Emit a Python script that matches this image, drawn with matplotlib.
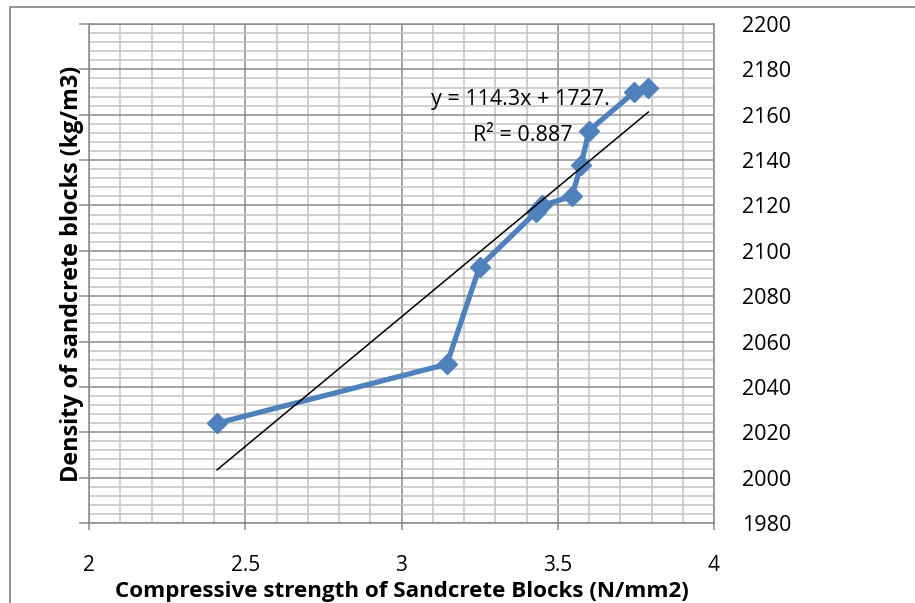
import numpy as np
import matplotlib
matplotlib.use("Agg")
from matplotlib import pyplot as plt
from matplotlib.patches import Rectangle
from matplotlib.ticker import MultipleLocator

plt.rcParams['font.family'] = ['Open Sans', 'DejaVu Sans']

# compressive strength (N/mm2) vs density (kg/m3)
strength = [2.41, 3.145, 3.25, 3.43, 3.45, 3.545, 3.575, 3.60, 3.745, 3.79]
density = [2024, 2050, 2093, 2117, 2120, 2124, 2138, 2153, 2170, 2172]

# linear trendline as shown on the chart
slope = 114.3
intercept = 1728.0
eq_text = "y = 114.3x + 1727."
r2_text = "R² = 0.887"

xticks = [2, 2.5, 3, 3.5, 4]
xtick_labels = ["2", "2.5", "3", "3.5", "4"]

W, H = 915, 603
fig = plt.figure(figsize=(W / 100, H / 100), dpi=100)
ax = fig.add_axes([89 / W, 1 - 523 / H, (714 - 89) / W, (523 - 24) / H])

# outer chart frame
fig.patches.append(Rectangle((10 / W, -0.1), 1.2, (H - 7) / H + 0.1,
                             transform=fig.transFigure, fill=False,
                             edgecolor='#8c8c8c', lw=1.3))

ax.set_xlim(2, 4)
ax.set_ylim(1980, 2200)
ax.xaxis.set_minor_locator(MultipleLocator(0.1))
ax.yaxis.set_major_locator(MultipleLocator(20))
ax.yaxis.set_minor_locator(MultipleLocator(4))
ax.set_xticks(xticks)
ax.set_xticklabels(xtick_labels)

ax.grid(which='minor', color='#c4c4c4', lw=1.1)
ax.grid(which='major', color='#8a8a8a', lw=1.1)
ax.set_axisbelow(True)

for s in ['left', 'bottom', 'right', 'top']:
    ax.spines[s].set_color('#8a8a8a')
    ax.spines[s].set_linewidth(1.1)

ax.tick_params(axis='y', which='major', left=True, right=False, labelleft=False,
               labelright=True, length=7, width=1.1, color='#8a8a8a',
               labelsize=15.5, pad=13)
ax.tick_params(axis='x', which='major', length=5, width=1.1, color='#8a8a8a',
               labelsize=15, pad=18)
ax.tick_params(which='minor', length=0)

ax.plot(strength, density, color='#4f81bd', lw=3.8, marker='D', markersize=10,
        zorder=3)
xt = np.array([min(strength), max(strength)])
ax.plot(xt, slope * xt + intercept, color='black', lw=1.1, zorder=4)

ax.text(3.094, 2166.5, eq_text, fontsize=15.5, va='center', ha='left', zorder=2)
ax.text(3.229, 2151, r2_text, fontsize=15.5, va='center', ha='left', zorder=2)

ax.set_xlabel("Compressive strength of Sandcrete Blocks (N/mm2)",
              fontsize=16.1, fontweight='bold')
ax.xaxis.label.set_va('center')
ax.xaxis.set_label_coords(0.5, -0.1375)
ax.set_ylabel("Density of sandcrete blocks (kg/m3)", fontsize=16.8,
              fontweight='bold')
ax.yaxis.set_label_position('left')
ax.yaxis.label.set_va('center')
ax.yaxis.set_label_coords(-0.027, 0.5)

fig.savefig("out.png", dpi=100)
